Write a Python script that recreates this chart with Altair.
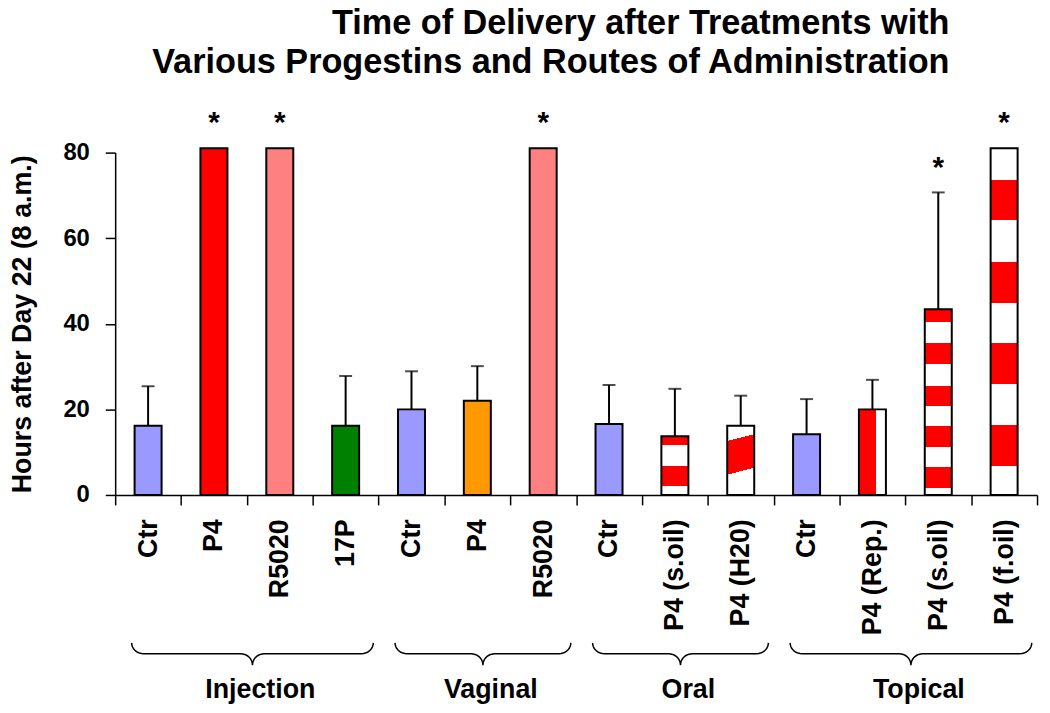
import math
import altair as alt
import pandas as pd

# ---------------- data ----------------
groups = ["Injection", "Vaginal", "Oral", "Topical"]
group_sizes = [4, 3, 3, 4]
treatments = ["Ctr", "P4", "R5020", "17P",
              "Ctr", "P4", "R5020",
              "Ctr", "P4 (s.oil)", "P4 (H20)",
              "Ctr", "P4 (Rep.)", "P4 (s.oil)", "P4 (f.oil)"]
hours = [16.2, 81, 81, 16.2,
         20.0, 22.0, 81,
         16.6, 13.7, 16.2,
         14.2, 20.0, 43.4, 81]
sem = [9.2, 0, 0, 11.6,
       8.9, 8.1, 0,
       9.1, 11.1, 7.0,
       8.2, 6.9, 27.3, 0]
significant = [False, True, True, False,
               False, False, True,
               False, False, False,
               False, False, True, True]
y_ticks = [0, 20, 40, 60, 80]
title_lines = ["Time of Delivery after Treatments with",
               "Various Progestins and Routes of Administration"]
y_title = "Hours after Day 22 (8 a.m.)"

# ---------------- styles ----------------
FONT = "Liberation Sans, Arial, sans-serif"
solid_fills = {0: "#9999FF", 1: "#FF0000", 2: "#FF8080", 3: "#008000",
               4: "#9999FF", 5: "#FF9900", 6: "#FF8080",
               7: "#9999FF", 10: "#9999FF"}
RED = "#FF0000"
WHITE = "#FFFFFF"


def stripes(red_bands, x1=0, y1=0, x2=0, y2=1):
    stops = [alt.GradientStop(offset=0, color=WHITE)]
    for a, b in red_bands:
        stops += [alt.GradientStop(offset=a, color=WHITE),
                  alt.GradientStop(offset=a, color=RED),
                  alt.GradientStop(offset=b, color=RED),
                  alt.GradientStop(offset=b, color=WHITE)]
    stops.append(alt.GradientStop(offset=1, color=WHITE))
    return alt.LinearGradient(gradient="linear", stops=stops,
                              x1=x1, y1=y1, x2=x2, y2=y2)


pattern_fills = {
    8: stripes([(0.0, 0.145), (0.5, 0.845)]),
    9: stripes([(0.22, 0.70)], x1=0, y1=0, x2=0.1, y2=1),
    11: stripes([(0.0, 0.65)], x1=0, y1=0, x2=1, y2=0),
    12: stripes([(0.0, 0.07), (0.184, 0.293), (0.412, 0.52),
                 (0.631, 0.74), (0.85, 0.96)]),
    13: stripes([(0.091, 0.208), (0.327, 0.445), (0.562, 0.681),
                 (0.799, 0.917)]),
}

W, H = 929, 345
YMAX = 80
PX = H / YMAX  # pixels per hour

keys = [f"{i:02d}{t}" for i, t in enumerate(treatments)]
df = pd.DataFrame({
    "key": keys,
    "hours": hours,
    "sem": sem,
    "top": [h + s for h, s in zip(hours, sem)],
    "star": significant,
    "fill": [solid_fills.get(i, "") for i in range(len(keys))],
})

x_scale = alt.Scale(domain=keys, paddingInner=0, paddingOuter=0)
y_scale = alt.Scale(domain=[0, YMAX], nice=False, zero=True)

x_axis = alt.Axis(title=None, labelExpr="slice(datum.label, 2)", labelAngle=270,
                  labelFont=FONT, labelFontSize=27, labelFontWeight="bold",
                  labelColor="black", labelPadding=14, tickBand="extent",
                  tickSize=10, tickColor="black", tickWidth=1.5,
                  domainColor="black", domainWidth=1.5, grid=False)
y_axis = alt.Axis(values=y_ticks, title=y_title, titleFont=FONT, titleFontSize=27,
                  titleFontWeight="bold", titleColor="black", titleX=-93,
                  titleY=H / 2, titleAngle=270, titleAlign="center",
                  titleBaseline="middle", labelFont=FONT, labelFontSize=24,
                  labelFontWeight="bold", labelColor="black", labelPadding=16,
                  tickSize=10, tickColor="black", tickWidth=1.5,
                  domainColor="black", domainWidth=1.5, grid=False)

X = alt.X("key:N", scale=x_scale, axis=x_axis)
Y = alt.Y("hours:Q", scale=y_scale, axis=y_axis)
BAR_W = alt.RelativeBandSize(0.41)

plain = alt.Chart(df[df["fill"] != ""]).mark_bar(
    stroke="black", strokeWidth=2, width=BAR_W
).encode(
    x=X,
    y=Y,
    fill=alt.Fill("fill:N", scale=None),
)

pattern_layers = []
for idx, grad in pattern_fills.items():
    pattern_layers.append(
        alt.Chart(df[df["key"] == keys[idx]]).mark_bar(
            stroke="black", strokeWidth=2, width=BAR_W, fill=grad
        ).encode(x=X, y=Y)
    )

err_df = df[df["sem"] > 0]
err_rule = alt.Chart(err_df).mark_rule(color="black", strokeWidth=2).encode(
    x=X, y=Y, y2="top:Q")
err_cap = alt.Chart(err_df).mark_tick(color="black", thickness=2, size=13).encode(
    x=X, y=alt.Y("top:Q", scale=y_scale, axis=y_axis))

stars = alt.Chart(df[df["star"]]).mark_text(
    text="*", font=FONT, fontSize=30, fontWeight="bold", color="black",
    baseline="alphabetic", dy=-16
).encode(x=X, y=alt.Y("top:Q", scale=y_scale, axis=y_axis))

bars_layer = alt.layer(plain, *pattern_layers, err_rule, err_cap, stars)

# ---------------- group braces ----------------
END_PX, LINE_PX, TIP_PX = 149, 160, 171.5
RX = 0.18
rows = []
start = 0
for g, n in zip(groups, group_sizes):
    s = start + 0.25
    e = start + n - 0.08
    m = (s + e) / 2
    pts = []
    angs = [k * 10 for k in range(10)]
    for a in angs:
        t = math.radians(a)
        pts.append((s + RX - RX * math.cos(t), END_PX + (LINE_PX - END_PX) * math.sin(t)))
    for a in angs:
        t = math.radians(a)
        pts.append((m - RX + RX * math.sin(t), TIP_PX - (TIP_PX - LINE_PX) * math.cos(t)))
    for a in reversed(angs):
        t = math.radians(a)
        pts.append((m + RX - RX * math.sin(t), TIP_PX - (TIP_PX - LINE_PX) * math.cos(t)))
    for a in reversed(angs):
        t = math.radians(a)
        pts.append((e - RX + RX * math.cos(t), END_PX + (LINE_PX - END_PX) * math.sin(t)))
    for i, (px, py) in enumerate(pts):
        rows.append({"group": g, "i": i, "bx": px, "by": -py / PX})
    start += n
brace_df = pd.DataFrame(rows)

gx = []
start = 0
for n in group_sizes:
    gx.append(start + 0.25 + (n - 0.33) / 2 + 0.12)
    start += n
label_df = pd.DataFrame({"group": groups, "gx": gx, "gy": [-205 / PX] * len(groups)})

bx_scale = alt.Scale(domain=[0, sum(group_sizes)], nice=False, zero=False)
brace = alt.Chart(brace_df).mark_line(color="black", strokeWidth=1.5).encode(
    x=alt.X("bx:Q", scale=bx_scale, axis=None),
    y=alt.Y("by:Q", scale=y_scale, axis=y_axis),
    detail="group:N",
    order="i:Q",
)
glabels = alt.Chart(label_df).mark_text(
    font=FONT, fontSize=27, fontWeight="bold", color="black", baseline="alphabetic"
).encode(
    x=alt.X("gx:Q", scale=bx_scale, axis=None),
    y=alt.Y("gy:Q", scale=y_scale, axis=y_axis),
    text="group:N",
)
deco = alt.layer(brace, glabels)

chart = alt.layer(bars_layer, deco).resolve_scale(x="independent").properties(
    width=W, height=H,
    autosize=alt.AutoSizeParams(type="none"),
    padding={"left": 108, "top": 143, "right": 5, "bottom": 217},
    title=alt.Title(title_lines, font=FONT, fontSize=34.5, fontWeight="bold",
                    color="black", anchor="end", align="right", dx=-89,
                    offset=28, lineHeight=40),
).configure_view(stroke="transparent")

chart.save("out.html", embed_options={"renderer": "svg", "actions": False})
